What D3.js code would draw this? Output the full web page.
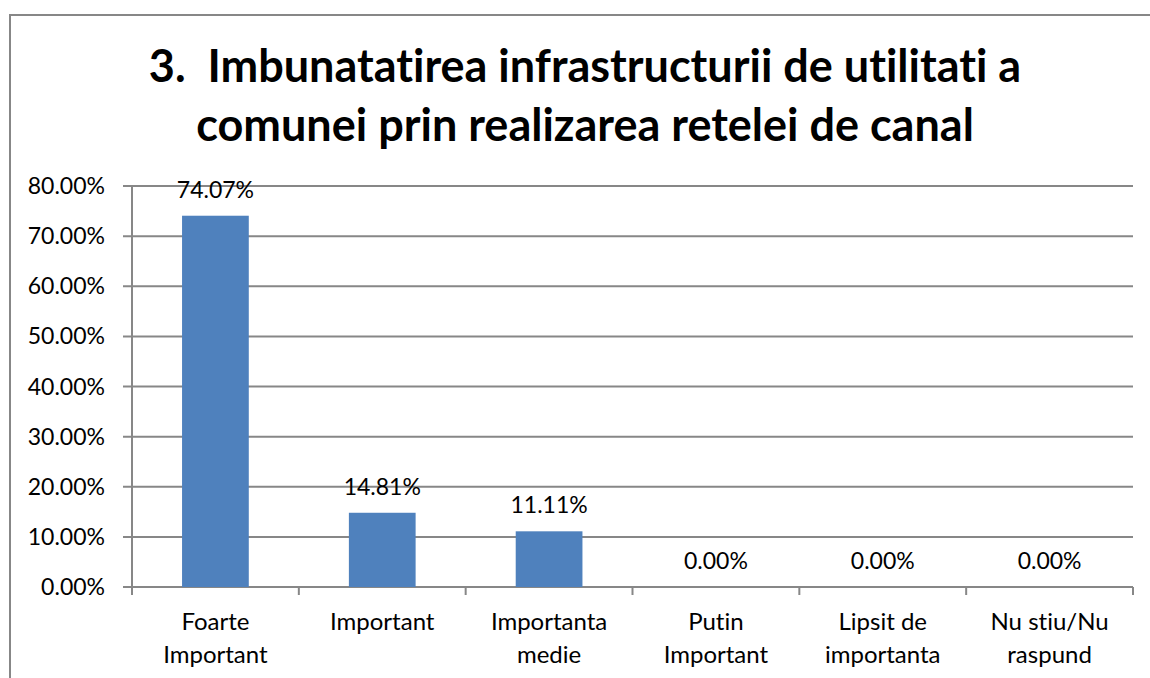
<!DOCTYPE html>
<html>
<head>
<meta charset="utf-8">
<script src="https://cdn.jsdelivr.net/npm/d3@7"></script>
<style>
  body { margin: 0; background: #fff; }
  text { font-family: Lato, "Open Sans", sans-serif; fill: #000; font-variant-ligatures: none; }
</style>
</head>
<body>
<div id="chart"></div>
<script>
// data
var categories = [["Foarte", "Important"], ["Important"], ["Importanta", "medie"], ["Putin", "Important"], ["Lipsit de", "importanta"], ["Nu stiu/Nu", "raspund"]];
var values = [74.07, 14.81, 11.11, 0, 0, 0];
var yTicks = [0, 10, 20, 30, 40, 50, 60, 70, 80];
var titleLines = ["3.\u00a0 Imbunatatirea infrastructurii de utilitati a", "comunei prin realizarea retelei de canal"];

var W = 1150, H = 678;
var svg = d3.select("#chart").append("svg").attr("width", W).attr("height", H);

// outer chart frame
svg.append("rect").attr("x", 10).attr("y", 15).attr("width", 1160).attr("height", 700)
    .attr("fill", "white").attr("stroke", "#878787").attr("stroke-width", 2);

// title
svg.selectAll("text.title").data(titleLines).enter().append("text")
    .attr("class", "title")
    .attr("x", 585).attr("y", function(d, i) { return 82 + i * 59; })
    .attr("text-anchor", "middle")
    .attr("font-size", 45).attr("font-weight", "bold")
    .text(function(d) { return d; });

// scales
var x = d3.scaleBand().domain(d3.range(categories.length)).range([132, 1133]).paddingInner(0.6).paddingOuter(0.3);
var xBand = d3.scaleBand().domain(d3.range(categories.length)).range([132, 1133]);
var y = d3.scaleLinear().domain([0, 80]).range([587, 186]);

// gridlines
svg.selectAll("line.grid").data(yTicks).enter().append("line")
    .attr("x1", 123).attr("x2", 1133)
    .attr("y1", function(d) { return y(d); }).attr("y2", function(d) { return y(d); })
    .attr("stroke", "#878787").attr("stroke-width", 2);

// y axis line
svg.append("line").attr("x1", 132).attr("x2", 132).attr("y1", 186).attr("y2", 587)
    .attr("stroke", "#878787").attr("stroke-width", 2);

// y tick labels
svg.selectAll("text.ytick").data(yTicks).enter().append("text")
    .attr("x", 105).attr("y", function(d) { return y(d) + 8; })
    .attr("text-anchor", "end").attr("font-size", 23)
    .text(function(d) { return d3.format(".2f")(d) + "%"; });

// x ticks
var xTickPos = d3.range(categories.length + 1).map(function(i) { return 132 + i * xBand.bandwidth(); });
svg.selectAll("line.xtick").data(xTickPos).enter().append("line")
    .attr("x1", function(d) { return d; }).attr("x2", function(d) { return d; })
    .attr("y1", 587).attr("y2", 595)
    .attr("stroke", "#878787").attr("stroke-width", 2);

// bars
svg.selectAll("rect.bar").data(values).enter().append("rect")
    .attr("x", function(d, i) { return x(i); })
    .attr("y", function(d) { return y(d); })
    .attr("width", x.bandwidth())
    .attr("height", function(d) { return 587 - y(d); })
    .attr("fill", "#4F81BD");

// data labels
svg.selectAll("text.val").data(values).enter().append("text")
    .attr("x", function(d, i) { return xBand(i) + xBand.bandwidth() / 2; })
    .attr("y", function(d) { return y(d) - 18; })
    .attr("text-anchor", "middle").attr("font-size", 23)
    .text(function(d) { return d3.format(".2f")(d) + "%"; });

// category labels
categories.forEach(function(lines, i) {
    lines.forEach(function(l, j) {
        svg.append("text")
            .attr("x", xBand(i) + xBand.bandwidth() / 2)
            .attr("y", 630 + j * 33)
            .attr("text-anchor", "middle").attr("font-size", 24)
            .text(l);
    });
});
</script>
</body>
</html>
